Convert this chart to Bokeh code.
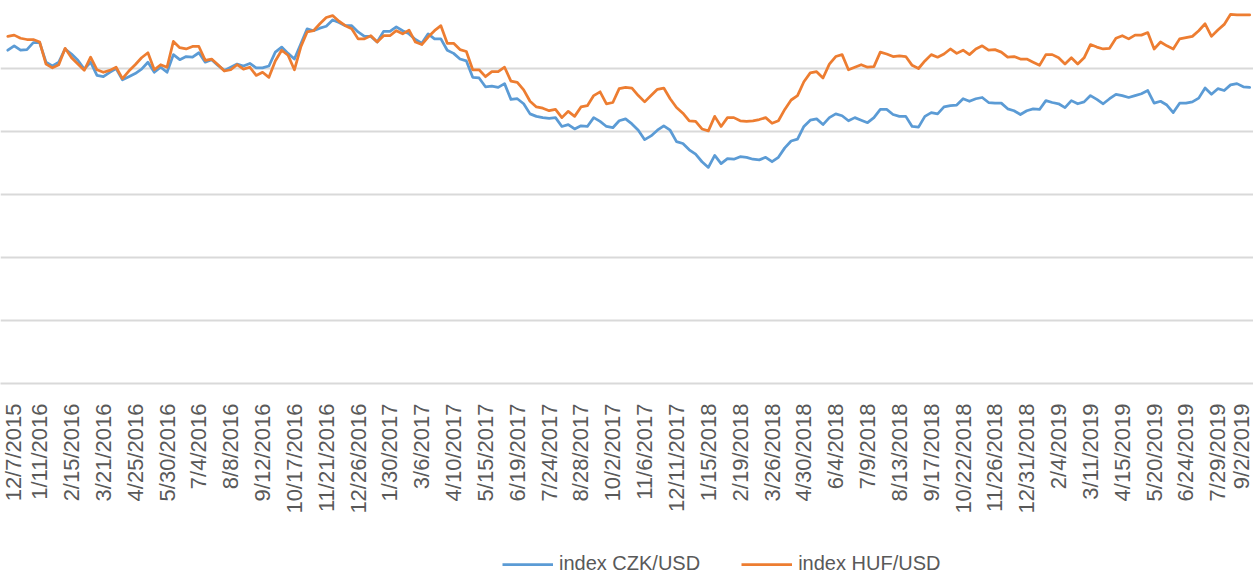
import math
import pandas as pd
from bokeh.plotting import figure
from bokeh.layouts import column
from bokeh.models import Range1d, FixedTicker, Legend, LegendItem, ColumnDataSource
from bokeh.embed import file_html
from bokeh.resources import INLINE

# weekly observations, 12/7/2015 .. 9/2/2019
dates = pd.date_range("2015-12-07", periods=196, freq="7D")

czk_usd = [
    1.029, 1.036, 1.029, 1.030, 1.041, 1.041, 1.010, 1.004, 1.010, 1.031,
    1.023, 1.013, 0.999, 1.010, 0.989, 0.987, 0.994, 1.000, 0.982, 0.987,
    0.992, 0.999, 1.010, 0.994, 1.002, 0.994, 1.022, 1.014, 1.019, 1.018,
    1.025,
    1.010, 1.014, 1.005, 0.997, 1.002, 1.007, 1.004, 1.008, 1.001, 1.001,
    1.004, 1.026, 1.034, 1.024, 1.015, 1.039, 1.063, 1.060, 1.064, 1.067,
    1.077, 1.073, 1.068, 1.068, 1.058, 1.051, 1.051, 1.042, 1.059, 1.059,
    1.066, 1.060,
    1.055, 1.046, 1.040, 1.055, 1.047, 1.047, 1.029, 1.024, 1.015, 1.012,
    0.986, 0.985, 0.971, 0.972, 0.970, 0.976, 0.951, 0.952, 0.944, 0.928,
    0.924, 0.922, 0.921, 0.922, 0.908, 0.911, 0.904, 0.909, 0.908, 0.922,
    0.916, 0.908,
    0.906, 0.917, 0.920, 0.912, 0.902, 0.887, 0.893, 0.902, 0.909, 0.902,
    0.884, 0.881, 0.871, 0.864, 0.852, 0.843, 0.862, 0.849, 0.857, 0.856,
    0.860, 0.859, 0.856, 0.855, 0.859, 0.852, 0.859, 0.874, 0.885, 0.888,
    0.908, 0.918,
    0.920, 0.911, 0.922, 0.928, 0.925, 0.917, 0.922, 0.918, 0.914, 0.922,
    0.935, 0.935, 0.927, 0.924, 0.924, 0.908, 0.907, 0.924, 0.930, 0.928,
    0.939, 0.941, 0.942, 0.952, 0.948, 0.952, 0.954, 0.946, 0.945, 0.945,
    0.936, 0.933, 0.927,
    0.933, 0.936, 0.935, 0.949, 0.946, 0.944, 0.938, 0.949, 0.944, 0.947,
    0.957, 0.951, 0.944, 0.952, 0.959, 0.957, 0.954, 0.957, 0.960, 0.965,
    0.945, 0.948, 0.942, 0.930, 0.945, 0.945, 0.947, 0.953, 0.969, 0.959,
    0.968, 0.965, 0.974, 0.976, 0.971, 0.970,
]

huf_usd = [
    1.051, 1.053, 1.048, 1.046, 1.046, 1.042, 1.007, 1.001, 1.006, 1.032,
    1.017, 1.007, 0.997, 1.018, 0.998, 0.994, 0.997, 1.002, 0.984, 0.996,
    1.006, 1.017, 1.025, 0.998, 1.006, 1.002, 1.043, 1.033, 1.031, 1.035,
    1.035,
    1.013, 1.015, 1.006, 0.996, 0.998, 1.006, 0.999, 1.002, 0.989, 0.994,
    0.986, 1.012, 1.029, 1.021, 0.998, 1.034, 1.058, 1.060, 1.071, 1.081,
    1.084, 1.075, 1.068, 1.063, 1.047, 1.047, 1.052, 1.042, 1.052, 1.052,
    1.060, 1.055,
    1.061, 1.042, 1.038, 1.050, 1.060, 1.068, 1.040, 1.040, 1.030, 1.027,
    0.998, 0.998, 0.987, 0.995, 0.995, 1.002, 0.980, 0.978, 0.966, 0.948,
    0.939, 0.937, 0.933, 0.935, 0.922, 0.932, 0.924, 0.939, 0.941, 0.957,
    0.963, 0.944,
    0.946, 0.968, 0.970, 0.969, 0.957, 0.947, 0.957, 0.967, 0.969, 0.952,
    0.938, 0.929, 0.917, 0.916, 0.904, 0.901, 0.924, 0.908, 0.922, 0.922,
    0.917, 0.916, 0.917, 0.919, 0.922, 0.913, 0.917, 0.935, 0.950, 0.957,
    0.979, 0.993,
    0.995, 0.985, 1.007, 1.019, 1.022, 0.998, 1.002, 1.006, 1.002, 1.003,
    1.026, 1.023, 1.019, 1.020, 1.019, 1.005, 1.000, 1.012, 1.022, 1.018,
    1.023, 1.031, 1.024, 1.029, 1.022, 1.031, 1.036, 1.029, 1.030, 1.026,
    1.018, 1.019, 1.015,
    1.015, 1.010, 1.005, 1.022, 1.022, 1.017, 1.007, 1.017, 1.007, 1.017,
    1.038, 1.034, 1.031, 1.032, 1.048, 1.052, 1.047, 1.053, 1.053, 1.057,
    1.031, 1.042, 1.036, 1.031, 1.047, 1.049, 1.051, 1.060, 1.071, 1.051,
    1.061, 1.070, 1.086, 1.085, 1.085, 1.085,
]

tick_labels = [
    "12/7/2015", "1/11/2016", "2/15/2016", "3/21/2016", "4/25/2016",
    "5/30/2016", "7/4/2016", "8/8/2016", "9/12/2016", "10/17/2016",
    "11/21/2016", "12/26/2016", "1/30/2017", "3/6/2017", "4/10/2017",
    "5/15/2017", "6/19/2017", "7/24/2017", "8/28/2017", "10/2/2017",
    "11/6/2017", "12/11/2017", "1/15/2018", "2/19/2018", "3/26/2018",
    "4/30/2018", "6/4/2018", "7/9/2018", "8/13/2018", "9/17/2018",
    "10/22/2018", "11/26/2018", "12/31/2018", "2/4/2019", "3/11/2019",
    "4/15/2019", "5/20/2019", "6/24/2019", "7/29/2019", "9/2/2019",
]
series_names = ["index CZK/USD", "index HUF/USD"]
series_colors = ["#5B9BD5", "#ED7D31"]

x = list(range(len(dates)))
src = ColumnDataSource(dict(x=x, date=dates, czk=czk_usd, huf=huf_usd))

W = 1253
p = figure(width=W, height=540, output_backend="svg", toolbar_location=None,
           x_range=Range1d(-1.15, 195.6), y_range=Range1d(0.5, 1.1),
           min_border_left=0, min_border_right=0, min_border_top=5,
           min_border_bottom=157)
p.outline_line_color = None

r1 = p.line("x", "czk", source=src, line_color=series_colors[0], line_width=2.75,
            line_join="round", line_cap="round")
r2 = p.line("x", "huf", source=src, line_color=series_colors[1], line_width=2.75,
            line_join="round", line_cap="round")

p.yaxis.visible = False
p.ygrid.ticker = FixedTicker(ticks=[0.6, 0.7, 0.8, 0.9, 1.0, 1.1])
p.ygrid.grid_line_color = "#D9D9D9"
p.ygrid.grid_line_width = 2
p.xgrid.visible = False

tick_pos = list(range(0, len(dates), 5))
p.xaxis.ticker = FixedTicker(ticks=tick_pos)
p.xaxis.major_label_overrides = {t: lab for t, lab in zip(tick_pos, tick_labels)}
p.xaxis.major_label_orientation = math.pi / 2
p.xaxis.major_label_text_font = "Liberation Sans"
p.xaxis.major_label_text_font_size = "22px"
p.xaxis.major_label_text_color = "#595959"
p.xaxis.major_label_standoff = 14
p.xaxis.major_tick_line_color = None
p.xaxis.minor_tick_line_color = None
p.xaxis.axis_line_color = "#D9D9D9"
p.xaxis.axis_line_width = 2

# legend strip below the chart (dummy renderers lie outside its visible range)
q = figure(width=W, height=37, output_backend="svg", toolbar_location=None,
           x_range=Range1d(0, 1), y_range=Range1d(0, 1),
           min_border_left=0, min_border_right=0, min_border_top=0,
           min_border_bottom=0)
q.axis.visible = False
q.grid.visible = False
q.outline_line_color = None
d1 = q.line([5, 6], [5, 6], line_color=series_colors[0], line_width=2.75)
d2 = q.line([5, 6], [5, 6], line_color=series_colors[1], line_width=2.75)
legend = Legend(items=[LegendItem(label=series_names[0], renderers=[d1]),
                       LegendItem(label=series_names[1], renderers=[d2])],
                orientation="horizontal", location=(502, 2),
                glyph_width=51, glyph_height=20, label_height=20,
                label_standoff=6, spacing=41,
                padding=0, margin=0, border_line_color=None,
                background_fill_alpha=0,
                label_text_font="Liberation Sans", label_text_font_size="20px",
                label_text_color="#595959")
q.add_layout(legend)

layout = column(p, q, spacing=0)
open("out.html", "w").write(file_html(layout, INLINE))
